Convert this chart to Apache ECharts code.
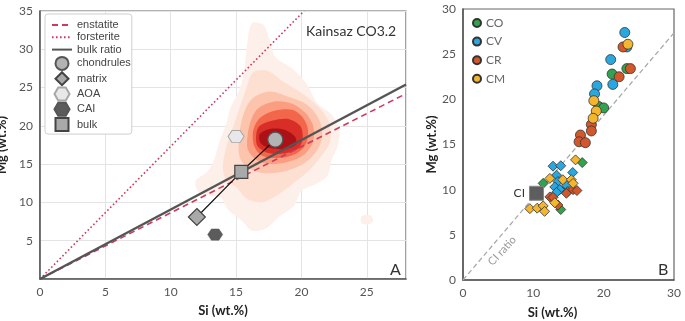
<!DOCTYPE html>
<html>
<head>
<meta charset="utf-8">
<script src="https://cdn.jsdelivr.net/npm/echarts@6/dist/echarts.min.js"></script>
<style>
  html, body { margin: 0; padding: 0; background: #fff; }
  #chart { width: 685px; height: 321px; }
</style>
</head>
<body>
<div id="chart"></div>
<script>
// ---- panel A : Kainsaz CO3.2 (Si, Mg in wt.%) ----
const enstatiteLine = [[0, 0], [28, 24.2]];
const forsteriteLine = [[0, 0], [20.2, 35]];
const bulkRatioLine = [[0, 0], [28, 25.4]];
const chondrules = [[18.0, 18.2]];
const matrix = [[12.0, 8.1]];
const aoa = [[15.0, 18.6]];
const cai = [[13.4, 5.8]];
const bulk = [[15.4, 14.0]];

// density contours, outer -> inner
const contour1 = [[16.2,33.4],[17.1,33.2],[17.6,31.0],[18.0,29.0],[19.3,27.5],[20.4,25.5],[21.2,23.0],[22.3,21.5],[22.9,19.5],[22.8,17.5],[22.3,15.5],[22.0,13.5],[21.0,12.3],[20.0,11.5],[19.4,9.5],[18.2,8.0],[17.3,6.6],[16.2,6.3],[15.5,7.5],[14.4,9.0],[13.8,10.6],[12.2,11.2],[11.9,12.8],[12.8,14.0],[13.3,15.5],[13.7,17.8],[14.2,20.0],[14.6,22.5],[15.2,24.5],[15.6,27.0],[15.8,30.0]];
const contour1b = [[24.6,8.2],[25.3,8.3],[25.5,7.6],[25.1,7.1],[24.6,7.3]];
const contour2 = [[16.3,27.0],[17.4,27.2],[18.6,25.8],[20.0,24.3],[21.3,22.5],[22.1,20.5],[22.2,18.0],[21.5,16.0],[20.6,14.2],[19.4,12.5],[18.2,11.0],[17.0,10.0],[15.8,10.5],[15.0,12.0],[14.2,13.0],[14.0,15.0],[14.3,17.5],[14.8,20.0],[15.3,22.5],[15.8,25.0]];
const contour3 = [[16.4,23.8],[17.6,24.5],[19.0,23.8],[20.4,22.8],[21.3,21.0],[21.6,18.8],[21.2,16.8],[20.3,15.2],[19.0,14.2],[17.4,13.8],[16.0,14.4],[15.3,15.8],[15.2,18.0],[15.4,20.5],[15.8,22.5]];
const contour4 = [[16.7,22.3],[18.0,23.2],[19.3,22.9],[20.3,21.7],[20.9,20.0],[20.9,18.0],[20.3,16.4],[19.2,15.4],[17.8,15.0],[16.6,15.5],[15.9,16.9],[15.9,19.0],[16.2,21.0]];
const contour5 = [[16.8,21.0],[18.0,22.0],[19.3,22.1],[20.1,21.1],[20.5,19.5],[20.3,17.5],[19.5,16.3],[18.2,15.8],[17.0,16.1],[16.4,17.3],[16.3,19.3]];
const contour6 = [[16.7,19.8],[17.8,20.7],[19.0,20.9],[19.9,20.0],[20.1,18.5],[19.8,17.1],[18.7,16.4],[17.4,16.5],[16.6,17.5]];
const contour7 = [[16.8,18.9],[17.6,19.6],[18.7,19.5],[19.5,18.6],[19.6,17.6],[18.8,17.0],[17.6,17.1],[16.9,17.7]];
const densityContours = [contour1, contour1b, contour2, contour3, contour4, contour5, contour6, contour7];
const densityLevel = [0, 0, 1, 2, 3, 4, 5, 6];

// ---- panel B : chondrite groups ----
const coChondrules = [[21.2,22.8],[23.3,23.4],[19.3,19.2],[20.0,19.05]];
const coMatrix = [[16.95,13.0],[11.4,10.7],[14.5,10.0],[13.9,7.8]];
const cvChondrules = [[23.0,27.4],[23.3,25.8],[21.0,24.4],[21.3,21.65],[19.05,21.5],[18.7,20.6]];
const cvMatrix = [[12.8,12.6],[13.9,12.65],[15.6,11.9],[13.3,11.6],[13.5,10.9],[14.7,10.5],[13.05,10.3],[13.75,10.0],[13.3,9.7]];
const crChondrules = [[22.75,25.8],[23.8,23.4],[22.2,22.5],[18.25,17.2],[18.25,16.5],[16.7,16.05],[16.5,15.3],[17.4,15.2]];
const crMatrix = [[14.9,9.8],[15.65,10.0],[16.2,9.9],[14.7,9.6],[12.35,9.2],[12.8,9.15],[13.5,8.3]];
const cmChondrules = [[23.45,26.1],[18.6,19.85],[18.95,18.7],[18.5,17.9]];
const cmMatrix = [[16.0,13.3],[12.35,11.25],[14.2,11.1],[15.4,11.1],[15.65,10.7],[13.05,8.55],[9.5,7.9],[10.55,7.95],[11.4,8.2],[11.6,7.6]];
const ciBulk = [[10.45, 9.6]];
const ciRatioLine = [[0, 0], [30, 27.35]];

const legendA = ['enstatite', 'forsterite', 'bulk ratio', 'chondrules', 'matrix', 'AOA', 'CAI', 'bulk'];
const legendB = ['CO', 'CV', 'CR', 'CM'];

const densityColors = ['#fdf0ea', '#fde0d2', '#fcc4ad', '#fb9d80', '#f2664b', '#d92e27', '#ad1118'];
const groupColors = { CO: '#31a24f', CV: '#2aa7df', CR: '#d2582b', CM: '#f4b52f' };
const hexagon = 'path://M0,5 L2.9,0 L8.7,0 L11.6,5 L8.7,10 L2.9,10 Z';
const diamond = 'path://M5,0 L10,5 L5,10 L0,5 Z';
const square = 'path://M0,0 L10,0 L10,10 L0,10 Z';
const labelFont = 'Lato';

const chart = echarts.init(document.getElementById('chart'));

function axisCommon(extra) {
  return Object.assign({
    type: 'value',
    splitLine: { show: false },
    axisTick: { show: false },
    axisLine: { show: true, lineStyle: { color: '#555', width: 1.5 } },
    axisLabel: { color: '#555', fontSize: 12, fontFamily: labelFont, margin: 7 },
    nameLocation: 'middle',
    nameTextStyle: { color: '#222', fontSize: 13, fontWeight: 'bold', fontFamily: labelFont }
  }, extra);
}

function groupSeries(name, points, symbol, size) {
  return {
    name: name,
    type: 'scatter',
    xAxisIndex: 1, yAxisIndex: 1,
    symbol: symbol,
    symbolSize: size,
    data: points,
    z: 4,
    itemStyle: { color: groupColors[name], borderColor: '#333', borderWidth: 0.8, opacity: 1 }
  };
}

const option = {
  animation: false,
  grid: [
    { left: 40, top: 11, width: 366, height: 268, outerBoundsMode: 'none', show: true, borderColor: '#666', borderWidth: 1.2 },
    { left: 463, top: 9, width: 211, height: 271, outerBoundsMode: 'none', show: true, borderColor: '#666', borderWidth: 1.2 }
  ],
  xAxis: [
    axisCommon({ gridIndex: 0, min: 0, max: 28, interval: 5, name: 'Si (wt.%)', nameGap: 25,
      splitLine: { show: true, lineStyle: { color: '#e4e4e4' } },
      axisLabel: { color: '#555', fontSize: 12, fontFamily: labelFont, margin: 7, showMaxLabel: false } }),
    axisCommon({ gridIndex: 1, min: 0, max: 30, interval: 10, name: 'Si (wt.%)', nameGap: 26,
      nameTextStyle: { color: '#222', fontSize: 13, fontWeight: 'bold', fontFamily: labelFont, padding: [0, 32, 0, 0] } })
  ],
  yAxis: [
    axisCommon({ gridIndex: 0, min: 0, max: 35, interval: 5, name: 'Mg (wt.%)', nameGap: 21,
      splitLine: { show: true, lineStyle: { color: '#e4e4e4' } },
      axisLabel: { color: '#555', fontSize: 12, fontFamily: labelFont, margin: 7, showMinLabel: false } }),
    axisCommon({ gridIndex: 1, min: 0, max: 30, interval: 5, name: 'Mg (wt.%)', nameGap: 25 })
  ],
  legend: [
    {
      data: legendA,
      orient: 'vertical', left: 45, top: 14,
      itemWidth: 20, itemHeight: 13, itemGap: 0.3,
      padding: [5, 1, 2, 6],
      backgroundColor: '#fff', borderColor: '#cfcfcf', borderWidth: 1, borderRadius: 3,
      textStyle: { fontFamily: 'Liberation Sans', fontSize: 11, lineHeight: 12, color: '#444' }
    },
    {
      data: legendB,
      orient: 'vertical', left: 472, top: 16,
      itemWidth: 8, itemHeight: 8, itemGap: 4.6,
      padding: 0,
      icon: 'circle',
      textStyle: { fontFamily: labelFont, fontSize: 12, lineHeight: 14, color: '#666' }
    }
  ],
  title: [
    { text: 'Kainsaz CO3.2', left: 301, top: 19, textStyle: { fontFamily: labelFont, fontSize: 14, fontWeight: 'normal', color: '#333' } },
    { text: 'A', left: 385, top: 257, textStyle: { fontFamily: labelFont, fontSize: 16, fontWeight: 'normal', color: '#333' } },
    { text: 'B', left: 653, top: 257, textStyle: { fontFamily: labelFont, fontSize: 16, fontWeight: 'normal', color: '#333' } }
  ],
  graphic: [
    { type: 'text', left: 486, top: 234, rotation: Math.PI * 47 / 180,
      style: { text: 'CI ratio', fill: '#9a9a9a', font: '11px Lato' } }
  ],
  series: [
    {
      type: 'custom',
      name: 'density',
      xAxisIndex: 0, yAxisIndex: 0,
      clip: true,
      z: 1,
      silent: true,
      data: densityContours.map((c, i) => [c[0][0], c[0][1], i]),
      renderItem: function (params, api) {
        const idx = api.value(2);
        const pts = densityContours[idx].map(p => api.coord(p));
        return {
          type: 'polygon',
          shape: { points: pts, smooth: 0.3 },
          style: { fill: densityColors[densityLevel[idx]] }
        };
      }
    },
    {
      name: 'enstatite', type: 'line', xAxisIndex: 0, yAxisIndex: 0, z: 2,
      data: enstatiteLine, symbol: 'none',
      lineStyle: { color: '#cc3a5c', width: 1.6, type: [6, 4] }, itemStyle: { color: '#cc3a5c', opacity: 0 }
    },
    {
      name: 'forsterite', type: 'line', xAxisIndex: 0, yAxisIndex: 0, z: 2,
      data: forsteriteLine, symbol: 'none',
      lineStyle: { color: '#cc3a5c', width: 1.6, type: [1.6, 2.4] }, itemStyle: { color: '#cc3a5c', opacity: 0 }
    },
    {
      name: 'bulk ratio', type: 'line', xAxisIndex: 0, yAxisIndex: 0, z: 3,
      data: bulkRatioLine, symbol: 'none',
      lineStyle: { color: '#555', width: 2.5 }, itemStyle: { color: '#555', opacity: 0 }
    },
    {
      name: 'mixing', type: 'line', xAxisIndex: 0, yAxisIndex: 0, z: 3,
      data: [matrix[0], bulk[0], chondrules[0]], symbol: 'none',
      lineStyle: { color: '#111', width: 1.2 }
    },
    {
      name: 'chondrules', type: 'scatter', xAxisIndex: 0, yAxisIndex: 0, z: 5,
      data: chondrules, symbol: 'circle', symbolSize: 15,
      itemStyle: { color: '#b3b3b3', borderColor: '#555', borderWidth: 1.2, opacity: 1 }
    },
    {
      name: 'matrix', type: 'scatter', xAxisIndex: 0, yAxisIndex: 0, z: 5,
      data: matrix, symbol: diamond, symbolSize: 17, symbolKeepAspect: true,
      itemStyle: { color: '#a9a9a9', borderColor: '#444', borderWidth: 1.2, opacity: 1 }
    },
    {
      name: 'AOA', type: 'scatter', xAxisIndex: 0, yAxisIndex: 0, z: 5,
      data: aoa, symbol: hexagon, symbolSize: [16, 14], symbolKeepAspect: true,
      itemStyle: { color: '#e8e8ea', borderColor: '#a8a8a8', borderWidth: 1, opacity: 1 }
    },
    {
      name: 'CAI', type: 'scatter', xAxisIndex: 0, yAxisIndex: 0, z: 5,
      data: cai, symbol: hexagon, symbolSize: [15, 13], symbolKeepAspect: true,
      itemStyle: { color: '#5b5b5b', borderColor: '#555', borderWidth: 0.5, opacity: 1 }
    },
    {
      name: 'bulk', type: 'scatter', xAxisIndex: 0, yAxisIndex: 0, z: 5,
      data: bulk, symbol: square, symbolSize: 13, symbolKeepAspect: true,
      itemStyle: { color: '#a9a9a9', borderColor: '#444', borderWidth: 1.2, opacity: 1 }
    },
    {
      name: 'CI ratio', type: 'line', xAxisIndex: 1, yAxisIndex: 1, z: 2,
      data: ciRatioLine, symbol: 'none',
      lineStyle: { color: '#aaa', width: 1.3, type: [5, 3] }
    },
    groupSeries('CO', coMatrix, 'diamond', 10),
    groupSeries('CV', cvMatrix, 'diamond', 10),
    groupSeries('CR', crMatrix, 'diamond', 10),
    groupSeries('CM', cmMatrix, 'diamond', 10),
    groupSeries('CO', coChondrules, 'circle', 10),
    groupSeries('CV', cvChondrules, 'circle', 10),
    groupSeries('CR', crChondrules, 'circle', 10),
    groupSeries('CM', cmChondrules, 'circle', 10),
    {
      name: 'CI', type: 'scatter', xAxisIndex: 1, yAxisIndex: 1, z: 6,
      data: ciBulk, symbol: 'rect', symbolSize: 14,
      itemStyle: { color: '#5e5e5e', borderColor: '#888', borderWidth: 1, opacity: 1 },
      label: { show: true, position: 'left', distance: 4, formatter: 'CI', color: '#333', fontSize: 12, fontWeight: 'normal', fontFamily: labelFont }
    }
  ]
};

chart.setOption(option);
</script>
</body>
</html>
